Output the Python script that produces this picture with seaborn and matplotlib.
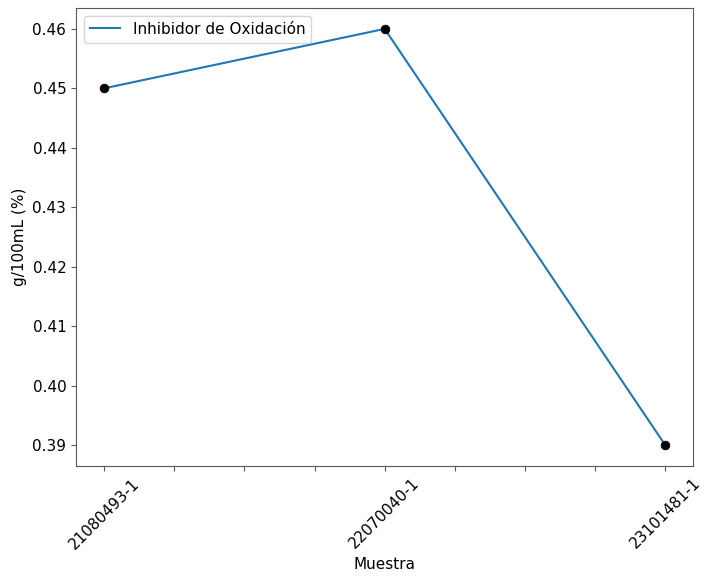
import numpy as np
import pandas as pd
import matplotlib
matplotlib.use("Agg")
import matplotlib.pyplot as plt
import seaborn as sns

muestras = ["21080493-1", "22070040-1", "23101481-1"]
valores = [0.45, 0.46, 0.39]
serie = "Inhibidor de Oxidación"

df = pd.DataFrame({"pos": np.arange(len(muestras)), "valor": valores})

plt.rcParams["font.family"] = ["DejaVu Sans"]
plt.rcParams["font.size"] = 11

fig, ax = plt.subplots(figsize=(7.17, 5.76), dpi=100)
sns.lineplot(data=df, x="pos", y="valor", color="tab:blue", linewidth=1.5,
             label=serie, ax=ax)
sns.scatterplot(data=df, x="pos", y="valor", color="black", s=40,
                edgecolor="black", zorder=3, legend=False, ax=ax)

# ticks every quarter, labels only on the samples
ticks = np.arange(0, len(muestras) - 1 + 0.01, 0.25)
labels = [muestras[int(t)] if float(t).is_integer() else "" for t in ticks]
ax.set_xticks(ticks)
ax.set_xticklabels(labels, rotation=45, fontsize=11)
ax.tick_params(axis="y", labelsize=11)
ax.tick_params(colors="0.35", labelcolor="black")
ax.set_yticks(np.arange(0.39, 0.4601, 0.01))
ax.yaxis.set_major_formatter(plt.FormatStrFormatter("%.2f"))
ax.margins(x=0.05, y=0.05)

for s in ax.spines.values():
    s.set_color("0.35")

ax.set_xlabel("Muestra", fontsize=11)
ax.set_ylabel("g/100mL (%)", fontsize=11)
ax.legend(loc="upper left", fontsize=11)

fig.subplots_adjust(left=0.106, right=0.967, top=0.986, bottom=0.191)
fig.savefig("out.png", dpi=100)
